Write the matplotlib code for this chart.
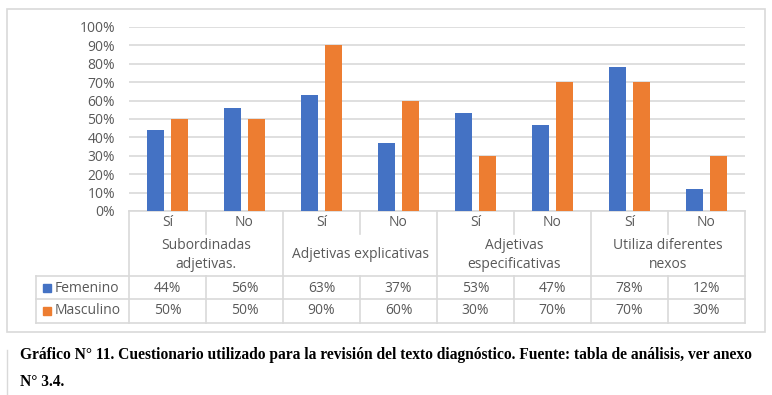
import matplotlib
matplotlib.use('Agg')
import matplotlib.pyplot as plt
import numpy as np

# datos
groups = ['Subordinadas\nadjetivas.', 'Adjetivas explicativas',
          'Adjetivas\nespecificativas', 'Utiliza diferentes\nnexos']
answers = ['Sí', 'No']
femenino = [44, 56, 63, 37, 53, 47, 78, 12]
masculino = [50, 50, 90, 60, 30, 70, 70, 30]
series_names = ['Femenino', 'Masculino']
yticks = [0, 10, 20, 30, 40, 50, 60, 70, 80, 90, 100]

BLUE = '#4472C4'
ORANGE = '#ED7D31'
GRID = '#D9D9D9'
TXT = '#595959'
FONT = ['Open Sans', 'DejaVu Sans']

W, H = 772, 395
fig = plt.figure(figsize=(W / 100, H / 100), dpi=100)
fig.patch.set_facecolor('white')

# overlay en pixeles (y hacia abajo)
ov = fig.add_axes([0, 0, 1, 1])
ov.set_xlim(0, W)
ov.set_ylim(H, 0)
ov.axis('off')

x0, x1 = 129, 745
y_top, y_zero = 27, 211
ax = fig.add_axes([x0 / W, (H - y_zero) / H, (x1 - x0) / W, (y_zero - y_top) / H])
ax.set_zorder(2)
ax.patch.set_alpha(0)

n = len(femenino)
x = np.arange(n)
bw = 0.22
gap = 0.08
ax.bar(x - (bw + gap) / 2, femenino, bw, color=BLUE, zorder=3)
ax.bar(x + (bw + gap) / 2, masculino, bw, color=ORANGE, zorder=3)
ax.set_xlim(-0.5, n - 0.5)
ax.set_ylim(0, 100)
ax.set_yticks(yticks)
ax.set_yticklabels([f'{v}%' for v in yticks], color=TXT, fontsize=10, family=FONT)
ax.set_xticks([])
ax.tick_params(axis='y', length=0, pad=10)
ax.grid(axis='y', color=GRID, linewidth=1.2, zorder=0)
for s in ax.spines.values():
    s.set_visible(False)

# borde del grafico
ov.add_patch(plt.Rectangle((7, 9), 758, 323, fill=False, edgecolor=GRID, linewidth=1.2))

# tabla de datos
cw = (x1 - x0) / n
r_sub, r_cat, r_f, r_m = 234, 276, 299, 323
lc = GRID
lw = 1.2
ov.plot([x0, x1], [y_zero, y_zero], color=lc, lw=lw)
for yy in [r_cat, r_f, r_m]:
    ov.plot([36, x1], [yy, yy], color=lc, lw=lw)
ov.plot([36, 36], [r_cat, r_m], color=lc, lw=lw)
for k in range(n + 1):
    xx = x0 + k * cw
    if k % 2 == 0:
        ov.plot([xx, xx], [y_zero, r_m], color=lc, lw=lw)
    else:
        ov.plot([xx, xx], [y_zero, r_sub], color=lc, lw=lw)
        ov.plot([xx, xx], [r_cat, r_m], color=lc, lw=lw)

for i in range(n):
    cx = x0 + (i + 0.5) * cw
    ov.text(cx, 222, answers[i % 2], ha='center', va='center', color=TXT, fontsize=10, family=FONT)
    ov.text(cx, 288, f'{femenino[i]}%', ha='center', va='center', color=TXT, fontsize=10, family=FONT)
    ov.text(cx, 311, f'{masculino[i]}%', ha='center', va='center', color=TXT, fontsize=10, family=FONT)
for g, name in enumerate(groups):
    cx = x0 + (2 * g + 1) * cw
    ov.text(cx, 255, name, ha='center', va='center', color=TXT, fontsize=10, family=FONT,
            linespacing=1.3)

for name, col, yy in zip(series_names, [BLUE, ORANGE], [288, 311]):
    ov.add_patch(plt.Rectangle((43, yy - 4), 8, 8, color=col))
    ov.text(55, yy, name, ha='left', va='center', color=TXT, fontsize=10, family=FONT)

# pie de figura
ov.plot([7, 7], [350, 395], color=GRID, lw=1)
cap1 = ('Gráfico N° 11. Cuestionario utilizado para la revisión del texto diagnóstico. '
        'Fuente: tabla de análisis, ver anexo')
cap2 = 'N° 3.4.'
ov.text(20, 355, cap1, ha='left', va='center', color='black', fontsize=11.2,
        family='Liberation Serif', fontweight='bold')
ov.text(20, 382, cap2, ha='left', va='center', color='black', fontsize=11.2,
        family='Liberation Serif', fontweight='bold')

fig.savefig('out.png', dpi=100)
